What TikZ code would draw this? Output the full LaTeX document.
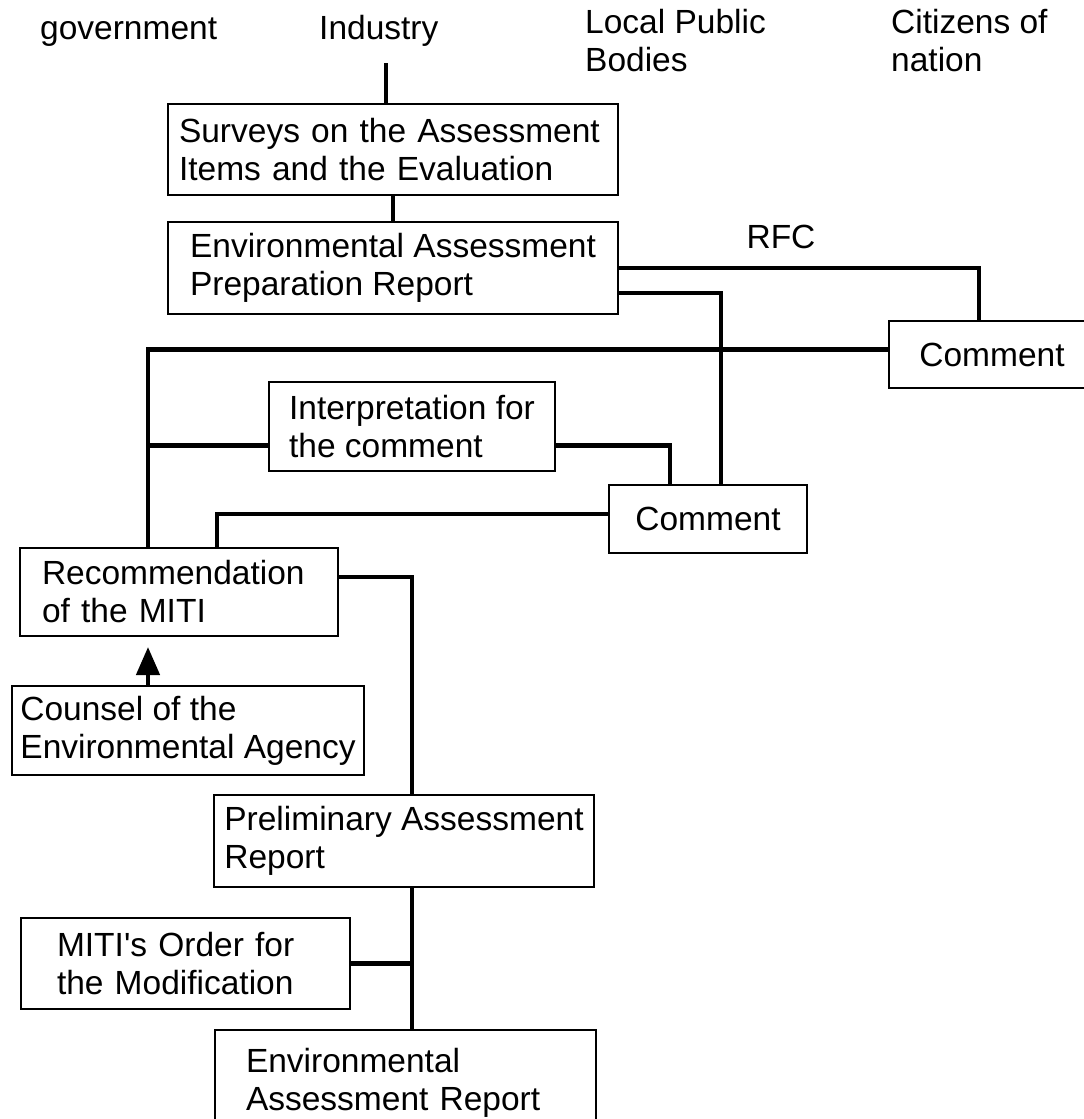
\documentclass[tikz,border=0pt]{standalone}
\usepackage{fontspec}
\setmainfont{Liberation Sans}
\usetikzlibrary{arrows.meta}
\newcommand\boxfont{\fontsize{33.5}{38}\selectfont}

\begin{document}
\begin{tikzpicture}
[x=1pt,y=-1pt,%
  box/.style={shape=rectangle,draw,line width=2pt,anchor=north west,align=left,inner ysep=0pt,font=\boxfont},%
  hdr/.style={anchor=base west,align=left,inner sep=0pt,font=\boxfont},%
  conn/.style={line width=4.5pt},%
  arr/.style={conn,-{Triangle[length=28pt,width=23pt]},shorten >=10pt}]
\useasboundingbox (0,0) rectangle (1084,1119);
\node[hdr] (gov) at (40,39) {government};
\node[hdr] (industry) at (319,39) {Industry};
\node[hdr] (local) at (585,71) {Local Public\\Bodies};
\node[hdr] (citizens) at (891,71) {Citizens of\\nation};
\node[hdr,anchor=base] (rfc) at (781,248) {RFC};

\node[box,minimum width=450pt,minimum height=91pt,text width=428pt,inner xsep=11pt] (survey) at (167,103) {Surveys on the Assessment\\Items and the Evaluation};
\node[box,minimum width=450pt,minimum height=92pt] (prep) at (167,221) {Environmental Assessment\\Preparation Report};
\node[box,minimum width=206pt,minimum height=67pt] (cmtA) at (888,320) {Comment};
\node[box,minimum width=286pt,minimum height=89pt] (interp) at (268,381) {Interpretation for\\the comment};
\node[box,minimum width=198pt,minimum height=68pt] (cmtB) at (608,484) {Comment};
\node[box,minimum width=318pt,minimum height=88pt,text width=274pt,inner xsep=22pt] (rec) at (19,547) {Recommendation\\of the MITI};
\node[box,minimum width=352pt,minimum height=89pt] (counsel) at (11,685) {Counsel of the\\Environmental Agency};
\node[box,minimum width=380pt,minimum height=92pt] (prelim) at (213,794) {Preliminary Assessment\\Report};
\node[box,minimum width=329pt,minimum height=91pt,text width=257pt,inner xsep=36pt] (miti) at (20,917) {MITI\textquotesingle s Order for\\the Modification};
\node[box,minimum width=381pt,minimum height=106pt,text width=319pt,inner xsep=31pt] (final) at (214,1029) {Environmental\\Assessment Report};

\coordinate (indfoot) at (386,63);
\coordinate (trunk) at ([xshift=-31pt]rec.north);
\coordinate (spine) at ([xshift=8pt]prelim.south);
\draw[conn] (indfoot) -- (indfoot |- survey.north);
\draw[conn] (survey.south) -- (prep.north);
\draw[conn] (prep.east) -| ([xshift=-13pt]cmtA.north);
\draw[conn] ([yshift=-25pt]prep.east) -| ([xshift=13pt]cmtB.north);
\draw[conn] ([yshift=5pt]cmtA.west) -| (trunk);
\draw[conn] ([yshift=-19pt]interp.west) -- ([yshift=-19pt]interp.west -| trunk);
\draw[conn] ([yshift=-19pt]interp.east) -| ([xshift=-38pt]cmtB.north);
\draw[conn] ([yshift=5pt]cmtB.west) -| ([xshift=38pt]rec.north);
\draw[conn] ([yshift=15pt]rec.east) -| ([xshift=8pt]prelim.north);
\draw[arr] ([xshift=-40pt]counsel.north) -- ([xshift=-40pt]counsel.north |- rec.south);
\draw[conn] (spine) -- (spine |- final.north);
\draw[conn] (miti.east) -- (miti.east -| spine);
\end{tikzpicture}
\end{document}
